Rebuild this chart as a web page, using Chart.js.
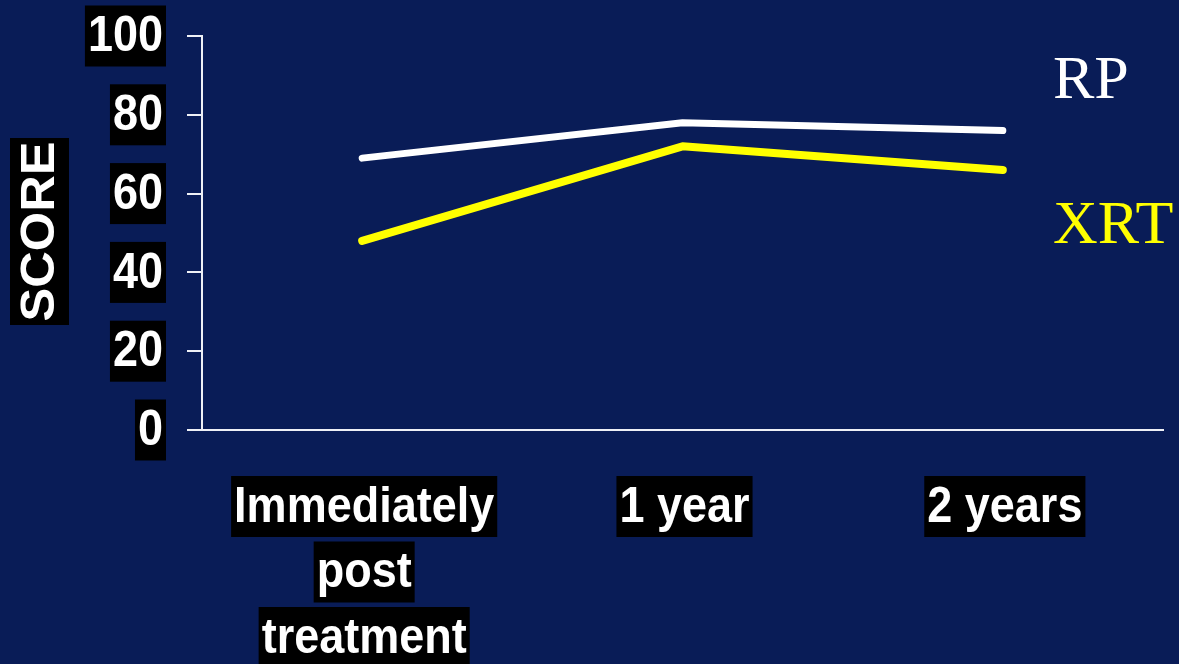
<!DOCTYPE html>
<html>
<head>
<meta charset="utf-8">
<title>Score over time</title>
<script src="https://cdn.jsdelivr.net/npm/chart.js@4"></script>
<style>
  html, body { margin: 0; padding: 0; background: #091c57; }
  #wrap { width: 1179px; height: 664px; position: relative; }
</style>
</head>
<body>
<div id="wrap"><canvas id="scoreChart"></canvas></div>
<script>
// data
var categories = [['Immediately', 'post', 'treatment'], '1 year', '2 years'];
var rpScores = [69, 78, 76];
var xrtScores = [48, 72, 66];
var yTicks = [0, 20, 40, 60, 80, 100];

var AXIS = '#eef0f6';
var SANS = '"Liberation Sans", Arial, sans-serif';
var SERIF = '"Liberation Serif", "Times New Roman", serif';

// white bold text on a black box, slightly stretched vertically like the slide
function boxedText(ctx, text, x, cy, align) {
  ctx.save();
  ctx.font = 'bold 45px ' + SANS;
  var w = ctx.measureText(text).width;
  var bw = w + 6, bh = 61;
  var left = align === 'right' ? x - bw : x - bw / 2;
  ctx.fillStyle = '#000';
  ctx.fillRect(left, cy - bh / 2, bw, bh);
  ctx.translate(left + bw / 2, cy);
  ctx.scale(1, 1.13);
  ctx.fillStyle = '#fff';
  ctx.textAlign = 'center';
  ctx.textBaseline = 'middle';
  ctx.fillText(text, 0, 1);
  ctx.restore();
}

var slideLabels = {
  id: 'slideLabels',
  afterDraw: function(chart) {
    var ctx = chart.ctx;
    var xs = chart.scales.x, ys = chart.scales.y;

    // y tick labels
    yTicks.forEach(function(v) {
      boxedText(ctx, String(v), 166, ys.getPixelForValue(v), 'right');
    });

    // category labels, one box per line
    categories.forEach(function(cat, i) {
      var lines = Array.isArray(cat) ? cat : [cat];
      var cx = xs.getPixelForValue(i);
      lines.forEach(function(line, j) {
        boxedText(ctx, line, cx + 2, 506.5 + j * 65.5, 'center');
      });
    });

    // axis title
    ctx.save();
    ctx.translate(39.5, 231.5);
    ctx.rotate(-Math.PI / 2);
    ctx.fillStyle = '#000';
    ctx.fillRect(-93.5, -29.5, 187, 59);
    ctx.scale(1.055, 1);
    ctx.font = 'bold 48px ' + SANS;
    ctx.fillStyle = '#fff';
    ctx.textAlign = 'center';
    ctx.textBaseline = 'middle';
    ctx.fillText('SCORE', 0, 1);
    ctx.restore();

    // series names
    ctx.save();
    ctx.font = '62px ' + SERIF;
    ctx.textAlign = 'left';
    ctx.textBaseline = 'alphabetic';
    var baselines = [98, 243];
    chart.data.datasets.forEach(function(ds, i) {
      ctx.fillStyle = ds.borderColor;
      ctx.fillText(ds.label, 1053, baselines[i]);
    });
    ctx.restore();
  }
};

var ctx = document.getElementById('scoreChart').getContext('2d');

var chart = new Chart(ctx, {
  type: 'line',
  data: {
    labels: categories,
    datasets: [
      {
        label: 'RP',
        data: rpScores,
        borderColor: '#ffffff',
        borderWidth: 7,
        borderCapStyle: 'round',
        borderJoinStyle: 'round',
        pointRadius: 0,
        tension: 0
      },
      {
        label: 'XRT',
        data: xrtScores,
        borderColor: '#ffff00',
        borderWidth: 8,
        borderCapStyle: 'round',
        borderJoinStyle: 'round',
        pointRadius: 0,
        tension: 0
      }
    ]
  },
  options: {
    responsive: true,
    maintainAspectRatio: false,
    animation: false,
    layout: { padding: { left: 187, right: 16, top: 36, bottom: 234 } },
    plugins: {
      legend: { display: false },
      tooltip: { enabled: false }
    },
    scales: {
      x: {
        type: 'category',
        offset: true,
        grid: { display: false, drawTicks: false },
        border: { color: AXIS, width: 2 },
        ticks: { display: false }
      },
      y: {
        min: 0,
        max: 100,
        ticks: { display: false, stepSize: 20 },
        grid: { drawOnChartArea: false, drawTicks: true, tickLength: 15, color: AXIS, lineWidth: 2 },
        border: { color: AXIS, width: 2 }
      }
    }
  },
  plugins: [slideLabels]
});
</script>
</body>
</html>
